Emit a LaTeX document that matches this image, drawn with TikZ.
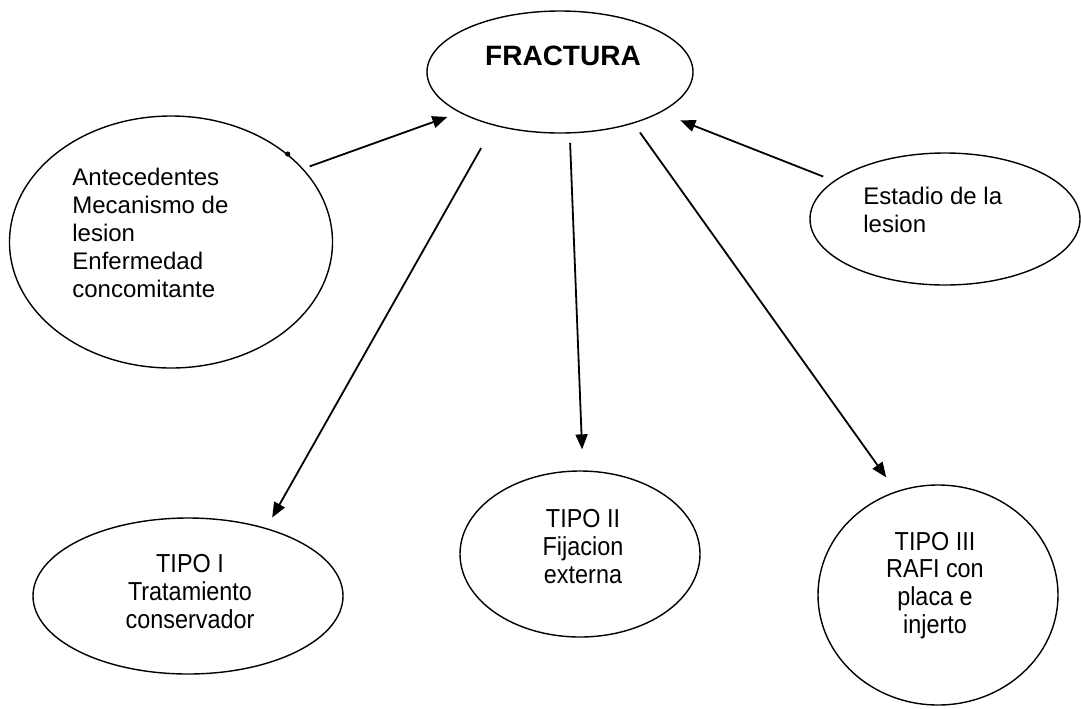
\documentclass[tikz,border=0pt]{standalone}
\usepackage{fontspec}
\setmainfont{Liberation Sans}
\newfontfamily\narrowfont[FakeStretch=0.9]{Liberation Sans}
\usetikzlibrary{shapes.geometric,arrows.meta}
\begin{document}
\begin{tikzpicture}[x=0.5pt,y=-0.5pt,
  oval/.style={draw, ellipse, line width=0.7pt, inner sep=0pt},
  conn/.style={-{Triangle[length=7.5pt,width=6pt]}, line width=0.9pt},
  toptext/.style={font=\fontsize{12}{14}\selectfont, align=left, inner sep=0pt},
  titletext/.style={font=\bfseries\fontsize{14}{16}\selectfont, inner sep=0pt},
  bottext/.style={font=\narrowfont\fontsize{13}{13.8}\selectfont, align=center, inner sep=0pt}]
\path[use as bounding box] (0,0) rectangle (1081,708);

% ellipses
\node[oval, minimum width=133pt, minimum height=61pt] (frac) at (560,72) {};
\node[oval, minimum width=161.5pt, minimum height=126pt] (left) at (171,242) {};
\node[oval, minimum width=135pt, minimum height=66pt] (est) at (945,219) {};
\node[oval, minimum width=155pt, minimum height=78pt] (t1) at (188,596) {};
\node[oval, minimum width=120pt, minimum height=83pt] (t2) at (580,554) {};
\node[oval, minimum width=120pt, minimum height=110pt] (t3) at (938,595) {};

% texts (base anchor = baseline of the last line)
\node[titletext, anchor=base] (fractext) at (563,65) {FRACTURA};
\node[toptext, anchor=base west] (lefttext) at (72,297) {Antecedentes\\Mecanismo de\\lesion\\Enfermedad\\concomitante};
\node[toptext, anchor=base west] (esttext) at (863,232) {Estadio de la\\lesion};
\node[bottext, anchor=base] (t1text) at (190,628) {TIPO I\\Tratamiento\\conservador};
\node[bottext, anchor=base] (t2text) at (583,583) {TIPO II\\Fijacion\\externa};
\node[bottext, anchor=base] (t3text) at (935,633) {TIPO III\\RAFI con\\placa e\\injerto};

% connectors
\draw[conn, shorten <=3.4pt, shorten >=6.4pt] (left.29.3) -- (frac.202.7);
\draw[conn, shorten <=5.7pt, shorten >=10.6pt] (est.161.4) -- (frac.338.2);
\draw[conn, shorten <=12.9pt, shorten >=6pt] (frac.219.8) -- (t1.41.8);
\draw[conn, shorten <=4.7pt, shorten >=10.5pt] (frac.279.7) -- (t2.88.9);
\draw[conn, shorten <=5.5pt, shorten >=8.5pt] (frac.325.5) -- (t3.112);

% small blot on the left ellipse
\fill (left.37.5) circle[radius=1.3pt];
\end{tikzpicture}
\end{document}
